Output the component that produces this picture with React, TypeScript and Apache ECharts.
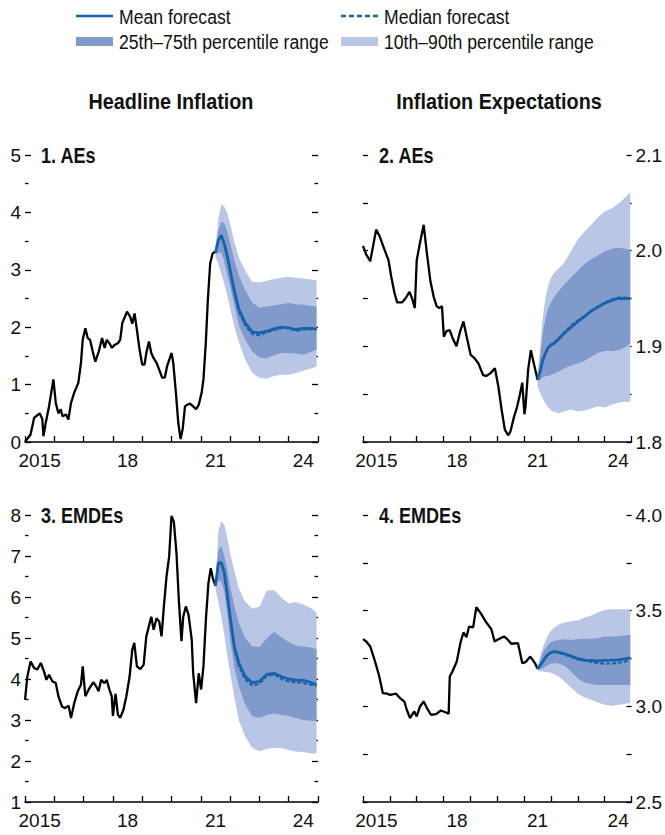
import React, { useEffect, useRef } from "react";
import * as echarts from "echarts";

// ---------- DATA ----------
const X_LABEL_POSITIONS = [2015.5, 2018.5, 2021.5, 2024.5];
const X_LABELS = ["2015", "18", "21", "24"];

// shared forecast horizon (decimal years)
const FC_YEARS = [2021.5, 2021.6, 2021.7, 2021.8, 2021.9, 2022.0, 2022.15, 2022.3, 2022.5, 2022.75, 2023.0, 2023.25, 2023.5, 2023.75, 2024.0, 2024.25, 2024.5, 2024.75, 2024.95];

// 1. AEs headline inflation (history: [year, value])
const AE_HEADLINE_HIST = [
  [2015.0, 0.0], [2015.19, 0.13], [2015.31, 0.42], [2015.5, 0.5], [2015.59, 0.4], [2015.63, 0.1], [2015.71, 0.34], [2015.82, 0.62],
  [2015.97, 1.09], [2016.05, 0.68], [2016.14, 0.5], [2016.22, 0.57], [2016.28, 0.45], [2016.4, 0.48], [2016.48, 0.39], [2016.57, 0.68],
  [2016.68, 0.86], [2016.82, 1.03], [2016.91, 1.38], [2016.97, 1.78], [2017.06, 1.98], [2017.14, 1.81], [2017.22, 1.78], [2017.31, 1.58],
  [2017.4, 1.4], [2017.52, 1.58], [2017.63, 1.81], [2017.72, 1.64], [2017.79, 1.78], [2017.88, 1.72], [2017.97, 1.64], [2018.05, 1.69],
  [2018.17, 1.72], [2018.25, 1.78], [2018.32, 2.07], [2018.48, 2.27], [2018.59, 2.18], [2018.66, 2.06], [2018.74, 2.24], [2018.82, 1.95],
  [2018.91, 1.61], [2019.0, 1.35], [2019.08, 1.35], [2019.14, 1.55], [2019.23, 1.75], [2019.31, 1.55], [2019.39, 1.46], [2019.49, 1.38],
  [2019.58, 1.26], [2019.68, 1.12], [2019.77, 1.12], [2019.85, 1.32], [2020.0, 1.55], [2020.06, 1.38], [2020.15, 0.86], [2020.23, 0.34],
  [2020.31, 0.05], [2020.38, 0.22], [2020.46, 0.62], [2020.54, 0.65], [2020.63, 0.67], [2020.74, 0.62], [2020.84, 0.57], [2020.93, 0.65],
  [2021.03, 0.86], [2021.09, 1.09], [2021.17, 1.72], [2021.24, 2.47], [2021.32, 3.11], [2021.4, 3.28], [2021.46, 3.31], [2021.5, 3.3],
];
const AE_HEADLINE_MEAN = [3.3, 3.52, 3.6, 3.46, 3.25, 3.0, 2.62, 2.31, 2.09, 1.92, 1.9, 1.93, 1.97, 2.0, 1.99, 1.96, 1.98, 1.98, 1.97];
const AE_HEADLINE_MEDIAN = [3.3, 3.52, 3.59, 3.44, 3.22, 2.96, 2.58, 2.27, 2.04, 1.88, 1.86, 1.91, 1.95, 1.98, 1.98, 1.93, 1.96, 1.96, 1.96];
const AE_HEADLINE_P75 = [3.32, 3.68, 3.84, 3.81, 3.67, 3.47, 3.15, 2.9, 2.66, 2.43, 2.34, 2.36, 2.38, 2.4, 2.42, 2.4, 2.39, 2.37, 2.36];
const AE_HEADLINE_P25 = [3.27, 3.3, 3.3, 3.15, 2.91, 2.71, 2.37, 2.03, 1.8, 1.58, 1.47, 1.46, 1.51, 1.55, 1.55, 1.54, 1.52, 1.57, 1.61];
const AE_HEADLINE_P90 = [3.4, 3.9, 4.14, 4.1, 4.0, 3.8, 3.48, 3.21, 3.0, 2.79, 2.78, 2.81, 2.84, 2.86, 2.88, 2.86, 2.85, 2.83, 2.82];
const AE_HEADLINE_P10 = [3.22, 3.1, 2.93, 2.75, 2.56, 2.33, 2.0, 1.74, 1.45, 1.21, 1.12, 1.1, 1.15, 1.17, 1.17, 1.2, 1.24, 1.28, 1.31];

// 2. AEs inflation expectations
const AE_EXPECT_HIST = [
  [2015.0, 2.005], [2015.12, 1.996], [2015.27, 1.989], [2015.37, 2.004], [2015.49, 2.022], [2015.62, 2.015], [2015.8, 2.001], [2015.95, 1.99],
  [2016.05, 1.973], [2016.17, 1.956], [2016.27, 1.946], [2016.46, 1.946], [2016.58, 1.95], [2016.73, 1.957], [2016.83, 1.95], [2016.93, 1.94],
  [2017.0, 1.99], [2017.12, 2.008], [2017.26, 2.027], [2017.38, 1.997], [2017.51, 1.968], [2017.63, 1.952], [2017.74, 1.942], [2017.84, 1.94],
  [2017.94, 1.942], [2018.01, 1.91], [2018.11, 1.916], [2018.23, 1.917], [2018.33, 1.909], [2018.48, 1.9], [2018.62, 1.916], [2018.74, 1.926],
  [2018.86, 1.91], [2019.01, 1.891], [2019.14, 1.888], [2019.3, 1.882], [2019.47, 1.87], [2019.59, 1.869], [2019.75, 1.872], [2019.91, 1.877],
  [2020.04, 1.858], [2020.16, 1.834], [2020.28, 1.813], [2020.41, 1.807], [2020.49, 1.811], [2020.62, 1.826], [2020.74, 1.837], [2020.83, 1.848],
  [2020.93, 1.862], [2021.01, 1.829], [2021.05, 1.837], [2021.15, 1.876], [2021.25, 1.896], [2021.36, 1.882], [2021.5, 1.865],
];
const AE_EXPECT_MEAN = [1.865, 1.874, 1.886, 1.893, 1.899, 1.901, 1.904, 1.908, 1.914, 1.92, 1.926, 1.931, 1.937, 1.941, 1.945, 1.948, 1.95, 1.95, 1.95];
const AE_EXPECT_MEDIAN = [1.865, 1.875, 1.887, 1.894, 1.899, 1.902, 1.905, 1.909, 1.915, 1.922, 1.927, 1.932, 1.937, 1.942, 1.946, 1.949, 1.951, 1.951, 1.95];
const AE_EXPECT_P75 = [1.867, 1.89, 1.915, 1.93, 1.94, 1.946, 1.953, 1.958, 1.965, 1.972, 1.979, 1.986, 1.991, 1.995, 1.999, 2.002, 2.003, 2.002, 2.001];
const AE_EXPECT_P25 = [1.863, 1.865, 1.868, 1.869, 1.869, 1.87, 1.872, 1.874, 1.877, 1.88, 1.882, 1.885, 1.889, 1.893, 1.895, 1.895, 1.896, 1.899, 1.903];
const AE_EXPECT_P90 = [1.87, 1.9, 1.932, 1.952, 1.964, 1.972, 1.978, 1.982, 1.988, 2.0, 2.012, 2.02, 2.027, 2.035, 2.041, 2.044, 2.049, 2.055, 2.061];
const AE_EXPECT_P10 = [1.858, 1.851, 1.845, 1.84, 1.836, 1.833, 1.831, 1.83, 1.832, 1.834, 1.832, 1.833, 1.835, 1.837, 1.836, 1.839, 1.841, 1.842, 1.842];

// 3. EMDEs headline inflation
const EM_HEADLINE_HIST = [
  [2015.0, 3.49], [2015.08, 4.06], [2015.19, 4.43], [2015.31, 4.27], [2015.42, 4.23], [2015.54, 4.39], [2015.65, 4.18], [2015.73, 3.98],
  [2015.82, 4.1], [2015.94, 3.94], [2016.05, 3.9], [2016.14, 3.58], [2016.26, 3.33], [2016.37, 3.29], [2016.49, 3.35], [2016.57, 3.05],
  [2016.68, 3.41], [2016.8, 3.7], [2016.91, 3.86], [2016.97, 4.31], [2017.06, 3.58], [2017.17, 3.74], [2017.33, 3.92], [2017.43, 3.82],
  [2017.51, 3.7], [2017.6, 3.98], [2017.71, 3.9], [2017.79, 3.98], [2017.88, 3.74], [2017.96, 3.58], [2018.0, 3.1], [2018.09, 3.64],
  [2018.17, 3.13], [2018.25, 3.05], [2018.36, 3.25], [2018.46, 3.58], [2018.57, 4.06], [2018.66, 4.71], [2018.73, 4.88], [2018.82, 4.31],
  [2018.94, 4.24], [2019.05, 4.35], [2019.14, 5.04], [2019.31, 5.52], [2019.39, 5.2], [2019.49, 5.48], [2019.58, 5.4], [2019.66, 5.04],
  [2019.74, 5.77], [2019.83, 6.5], [2019.92, 6.99], [2020.0, 7.98], [2020.08, 7.84], [2020.17, 7.07], [2020.25, 5.93], [2020.34, 4.92],
  [2020.4, 5.52], [2020.49, 5.77], [2020.58, 5.57], [2020.69, 4.96], [2020.74, 4.14], [2020.84, 3.41], [2020.93, 4.14], [2021.01, 3.74],
  [2021.09, 4.31], [2021.18, 5.52], [2021.26, 6.34], [2021.34, 6.7], [2021.41, 6.46], [2021.5, 6.27],
];
const EM_HEADLINE_MEAN = [6.27, 6.83, 6.84, 6.61, 6.1, 5.53, 4.77, 4.39, 4.08, 3.91, 3.94, 4.11, 4.14, 4.06, 4.0, 3.97, 3.97, 3.92, 3.86];
const EM_HEADLINE_MEDIAN = [6.27, 6.8, 6.82, 6.57, 6.04, 5.46, 4.7, 4.31, 4.0, 3.84, 3.88, 4.07, 4.11, 4.0, 3.94, 3.92, 3.9, 3.86, 3.83];
const EM_HEADLINE_P75 = [6.3, 7.14, 7.25, 7.01, 6.69, 6.26, 5.76, 5.36, 5.02, 4.8, 4.78, 4.99, 5.15, 5.02, 4.9, 4.82, 4.79, 4.77, 4.73];
const EM_HEADLINE_P25 = [6.25, 6.41, 6.39, 6.13, 5.61, 4.97, 4.27, 3.82, 3.4, 3.09, 3.05, 3.12, 3.16, 3.12, 3.1, 3.05, 3.0, 2.98, 2.97];
const EM_HEADLINE_P90 = [6.32, 7.61, 7.85, 7.77, 7.46, 7.08, 6.61, 6.21, 5.9, 5.72, 5.76, 6.15, 6.17, 5.99, 5.84, 5.88, 5.82, 5.73, 5.62];
const EM_HEADLINE_P10 = [6.2, 5.88, 5.51, 5.08, 4.6, 4.16, 3.53, 2.99, 2.62, 2.32, 2.24, 2.3, 2.32, 2.32, 2.27, 2.23, 2.22, 2.19, 2.18];

// 4. EMDEs inflation expectations
const EM_EXPECT_HIST = [
  [2015.0, 3.351], [2015.12, 3.339], [2015.27, 3.313], [2015.43, 3.243], [2015.59, 3.165], [2015.74, 3.069], [2015.89, 3.066], [2016.01, 3.06],
  [2016.23, 3.066], [2016.38, 3.043], [2016.54, 3.025], [2016.63, 2.982], [2016.75, 2.938], [2016.85, 2.961], [2016.91, 2.973], [2017.0, 2.947],
  [2017.12, 2.999], [2017.26, 3.025], [2017.38, 2.991], [2017.53, 2.956], [2017.72, 2.959], [2017.9, 2.978], [2018.09, 2.968], [2018.19, 2.961],
  [2018.23, 3.156], [2018.33, 3.182], [2018.49, 3.234], [2018.64, 3.339], [2018.74, 3.386], [2018.85, 3.361], [2018.95, 3.417], [2019.1, 3.413],
  [2019.22, 3.518], [2019.38, 3.487], [2019.57, 3.443], [2019.78, 3.403], [2019.9, 3.339], [2020.04, 3.351], [2020.25, 3.365], [2020.4, 3.347],
  [2020.52, 3.327], [2020.77, 3.33], [2020.93, 3.226], [2021.05, 3.231], [2021.23, 3.26], [2021.4, 3.226], [2021.5, 3.196],
];
const EM_EXPECT_MEAN = [3.196, 3.215, 3.235, 3.258, 3.272, 3.282, 3.286, 3.282, 3.275, 3.263, 3.249, 3.242, 3.24, 3.238, 3.24, 3.241, 3.243, 3.248, 3.255];
const EM_EXPECT_MEDIAN = [3.196, 3.215, 3.235, 3.257, 3.271, 3.28, 3.284, 3.279, 3.27, 3.258, 3.244, 3.238, 3.232, 3.226, 3.222, 3.224, 3.227, 3.234, 3.243];
const EM_EXPECT_P75 = [3.2, 3.24, 3.28, 3.305, 3.323, 3.336, 3.343, 3.347, 3.35, 3.347, 3.352, 3.353, 3.353, 3.356, 3.365, 3.365, 3.365, 3.37, 3.374];
const EM_EXPECT_P25 = [3.192, 3.195, 3.198, 3.208, 3.217, 3.222, 3.226, 3.222, 3.212, 3.182, 3.146, 3.124, 3.117, 3.112, 3.112, 3.112, 3.112, 3.112, 3.112];
const EM_EXPECT_P90 = [3.205, 3.265, 3.31, 3.345, 3.375, 3.395, 3.415, 3.428, 3.438, 3.445, 3.45, 3.464, 3.475, 3.492, 3.503, 3.507, 3.507, 3.507, 3.507];
const EM_EXPECT_P10 = [3.188, 3.183, 3.182, 3.18, 3.178, 3.175, 3.165, 3.155, 3.13, 3.097, 3.066, 3.046, 3.034, 3.02, 3.008, 3.003, 3.008, 3.012, 3.017];

const LEGEND_LABELS = ["Mean forecast", "Median forecast", "25th\u201375th percentile range", "10th\u201390th percentile range"];
const COLUMN_TITLES = ["Headline Inflation", "Inflation Expectations"];
const PANEL_TITLES = ["1. AEs", "2. AEs", "3. EMDEs", "4. EMDEs"];

// ---------- STYLE ----------
const FONT = '"Liberation Sans", Arial, sans-serif';
const TEXT = "#111111";
const BLUE = "#1762ab";
const DARK = "#7f9acb";
const LIGHT = "#bac6e5";

type Fc = { mean: number[]; median: number[]; p25: number[]; p75: number[]; p10: number[]; p90: number[] };

const PANELS = [
  {
    grid: { left: 25, top: 155, width: 293, height: 287 },
    y: { min: 0, max: 5, interval: 1, minor: true, labelSide: "left" },
    hist: AE_HEADLINE_HIST,
    fc: { mean: AE_HEADLINE_MEAN, median: AE_HEADLINE_MEDIAN, p25: AE_HEADLINE_P25, p75: AE_HEADLINE_P75, p10: AE_HEADLINE_P10, p90: AE_HEADLINE_P90 },
    label: (v: number) => String(Math.round(v)),
  },
  {
    grid: { left: 363, top: 155, width: 270, height: 287 },
    y: { min: 1.8, max: 2.1, interval: 0.05, minor: false, labelSide: "right" },
    hist: AE_EXPECT_HIST,
    fc: { mean: AE_EXPECT_MEAN, median: AE_EXPECT_MEDIAN, p25: AE_EXPECT_P25, p75: AE_EXPECT_P75, p10: AE_EXPECT_P10, p90: AE_EXPECT_P90 },
    label: (v: number) => (Math.round(v * 100) % 10 === 0 ? v.toFixed(1) : ""),
  },
  {
    grid: { left: 25, top: 515, width: 293, height: 287 },
    y: { min: 1, max: 8, interval: 1, minor: true, labelSide: "left" },
    hist: EM_HEADLINE_HIST,
    fc: { mean: EM_HEADLINE_MEAN, median: EM_HEADLINE_MEDIAN, p25: EM_HEADLINE_P25, p75: EM_HEADLINE_P75, p10: EM_HEADLINE_P10, p90: EM_HEADLINE_P90 },
    label: (v: number) => String(Math.round(v)),
  },
  {
    grid: { left: 363, top: 515, width: 270, height: 287 },
    y: { min: 2.5, max: 4.0, interval: 0.25, minor: false, labelSide: "right" },
    hist: EM_EXPECT_HIST,
    fc: { mean: EM_EXPECT_MEAN, median: EM_EXPECT_MEDIAN, p25: EM_EXPECT_P25, p75: EM_EXPECT_P75, p10: EM_EXPECT_P10, p90: EM_EXPECT_P90 },
    label: (v: number) => (Math.round(v * 100) % 50 === 0 ? v.toFixed(1) : ""),
  },
];

function bandSeries(xi: number, yi: number, lo: number[], hi: number[], color: string) {
  return {
    type: "custom",
    xAxisIndex: xi,
    yAxisIndex: yi,
    silent: true,
    clip: true,
    data: FC_YEARS.map((x, k) => [x, lo[k], hi[k]]),
    encode: { x: 0, y: [1, 2] },
    renderItem: (params: any, api: any) => {
      if (params.dataIndex !== 0) return { type: "group", children: [] };
      const upper = FC_YEARS.map((x, k) => api.coord([x, hi[k]]));
      const lower = FC_YEARS.map((x, k) => api.coord([x, lo[k]])).reverse();
      return {
        type: "polygon",
        shape: { points: upper.concat(lower) },
        style: { fill: color, stroke: "none" },
      };
    },
  };
}

function buildOption() {
  const grid: any[] = [];
  const xAxis: any[] = [];
  const yAxis: any[] = [];
  const series: any[] = [];
  const tickLine = { color: "#000", width: 1.3 };

  PANELS.forEach((p, i) => {
    grid.push({ ...p.grid, containLabel: false });
    xAxis.push({
      type: "value", gridIndex: i, min: 2015, max: 2025, interval: 1, position: "bottom",
      axisLine: { show: true, onZero: false, lineStyle: { color: "#000", width: 1.5 } },
      axisTick: { show: true, inside: true, length: 6, lineStyle: tickLine },
      axisLabel: { show: false }, splitLine: { show: false },
    });
    xAxis.push({
      type: "value", gridIndex: i, min: 2015, max: 2025, interval: 0.5, position: "bottom",
      axisLine: { show: false, onZero: false }, axisTick: { show: false }, splitLine: { show: false },
      axisLabel: {
        show: true, margin: 9, fontSize: 19, lineHeight: 19, fontFamily: FONT, color: TEXT,
        showMinLabel: true, showMaxLabel: true,
        formatter: (v: number) => {
          const k = X_LABEL_POSITIONS.findIndex((q) => Math.abs(q - v) < 1e-6);
          return k >= 0 ? X_LABELS[k] : "";
        },
      },
    });
    (["left", "right"] as const).forEach((side) => {
      yAxis.push({
        type: "value", gridIndex: i, position: side, min: p.y.min, max: p.y.max, interval: p.y.interval,
        axisLine: { show: false },
        axisTick: { show: true, inside: true, length: p.y.minor ? 6 : 5, lineStyle: tickLine },
        minorTick: { show: p.y.minor, splitNumber: 2, length: 3.5, lineStyle: tickLine },
        splitLine: { show: false }, minorSplitLine: { show: false },
        axisLabel: {
          show: side === p.y.labelSide, margin: 4, fontSize: 19, lineHeight: 16, fontFamily: FONT, color: TEXT,
          showMinLabel: true, showMaxLabel: true, formatter: p.label,
        },
      });
    });

    const xi = 2 * i;
    const yi = 2 * i;
    const fc: Fc = p.fc;
    const base = { type: "line", xAxisIndex: xi, yAxisIndex: yi, symbol: "none", silent: true };
    const pts = (arr: number[]) => FC_YEARS.map((x, k) => [x, arr[k]]);
    series.push(bandSeries(xi, yi, fc.p10, fc.p90, LIGHT));
    series.push(bandSeries(xi, yi, fc.p25, fc.p75, DARK));
    series.push({ ...base, name: `hist-${i}`, data: p.hist, lineStyle: { color: "#000", width: 2.3 } });
    series.push({ ...base, name: `median-${i}`, data: pts(fc.median), lineStyle: { color: BLUE, width: 2, type: [4, 2] } });
    series.push({ ...base, name: `mean-${i}`, data: pts(fc.mean), lineStyle: { color: BLUE, width: 2.8 } });
  });

  const txt = (text: string, x: number, y: number, size: number, sx: number, bold = false, align = "left") => ({
    type: "text", x, y, scaleX: sx, scaleY: 1, silent: true,
    style: {
      text, fill: TEXT, fontSize: size, fontFamily: FONT, fontWeight: bold ? "bold" : "normal",
      align, textAlign: align, verticalAlign: "middle", textVerticalAlign: "middle",
    },
  });

  const graphic: any[] = [
    { type: "line", silent: true, shape: { x1: 76, y1: 16, x2: 113, y2: 16 }, style: { stroke: BLUE, lineWidth: 2.5 } },
    txt(LEGEND_LABELS[0], 119, 16, 21, 0.84),
    { type: "line", silent: true, shape: { x1: 341, y1: 16, x2: 378, y2: 16 }, style: { stroke: BLUE, lineWidth: 2.5, lineDash: [5, 3] } },
    txt(LEGEND_LABELS[1], 384, 16, 21, 0.84),
    { type: "rect", silent: true, shape: { x: 76, y: 37, width: 37, height: 9 }, style: { fill: DARK } },
    txt(LEGEND_LABELS[2], 119, 41, 21, 0.84),
    { type: "rect", silent: true, shape: { x: 341, y: 37, width: 37, height: 9 }, style: { fill: LIGHT } },
    txt(LEGEND_LABELS[3], 384, 41, 21, 0.84),
    txt(COLUMN_TITLES[0], 171, 101, 22, 0.9, true, "center"),
    txt(COLUMN_TITLES[1], 499, 101, 22, 0.9, true, "center"),
    txt(PANEL_TITLES[0], 41, 155, 22, 0.82, true),
    txt(PANEL_TITLES[1], 379, 155, 22, 0.82, true),
    txt(PANEL_TITLES[2], 41, 515, 22, 0.82, true),
    txt(PANEL_TITLES[3], 379, 515, 22, 0.82, true),
  ];

  return { animation: false, backgroundColor: "#ffffff", grid, xAxis, yAxis, series, graphic };
}

export default function App() {
  const ref = useRef<HTMLDivElement>(null);
  useEffect(() => {
    if (!ref.current) return;
    const chart = echarts.init(ref.current, undefined, { renderer: "svg" });
    chart.setOption(buildOption() as any);
    return () => chart.dispose();
  }, []);
  return (
    <div
      ref={ref}
      style={{ position: "fixed", left: 0, top: 0, width: 665, height: 835, background: "#fff" }}
    />
  );
}
